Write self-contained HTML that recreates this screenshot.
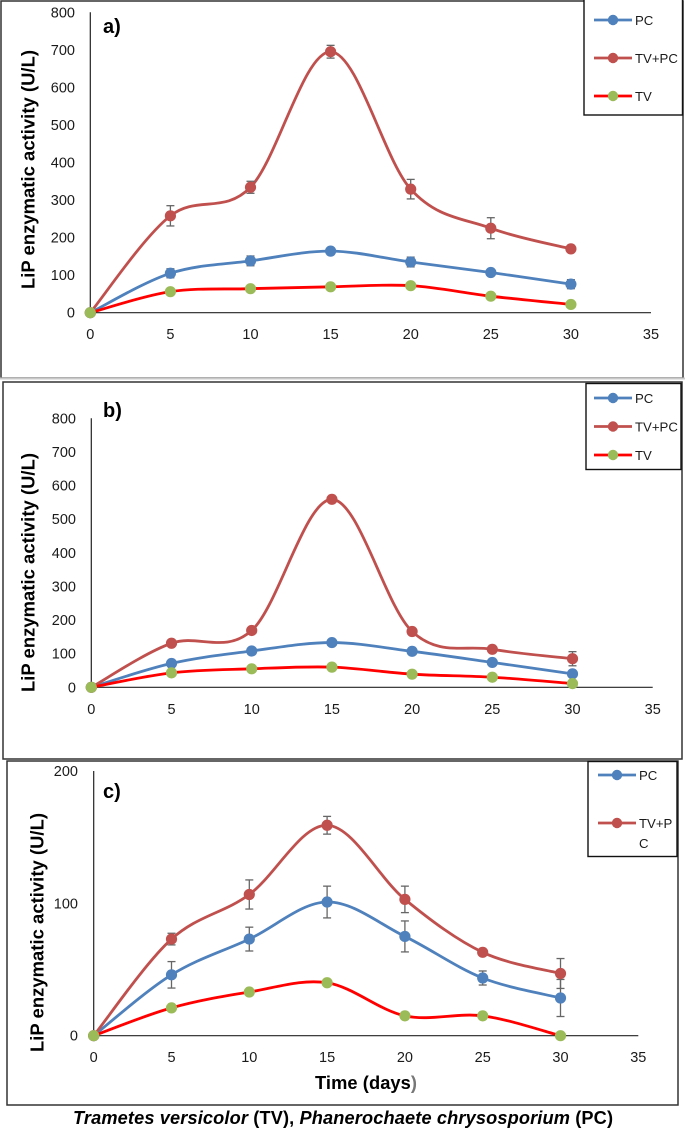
<!DOCTYPE html>
<html lang="en">
<head>
<meta charset="utf-8">
<title>LiP enzymatic activity over time</title>
<style>
html,body{margin:0;padding:0;background:#fff;}
body{width:685px;height:1129px;overflow:hidden;}
svg{display:block;}
text{font-family:"Liberation Sans",Arial,sans-serif;fill:#1a1a1a;}
.tick{font-size:14.5px;}
.ytitle{font-size:18.4px;font-weight:bold;fill:#000;}
.plabel{font-size:20px;font-weight:bold;fill:#000;}
.leg{font-size:13.2px;}
.box{fill:none;stroke:#333;stroke-width:1.5;}
.lbox{fill:#fff;stroke:#111;stroke-width:1.4;}
</style>
</head>
<body>
<svg id="figure" xmlns="http://www.w3.org/2000/svg" width="685" height="1129" viewBox="0 0 685 1129">
  <rect width="685" height="1129" fill="#fff"/>

  <rect class="box" x="1" y="1" width="682" height="377"/>
  <line x1="0" x2="685" y1="378.5" y2="378.5" stroke="#c8c8c8" stroke-width="2"/>
  <rect class="box" x="3" y="382" width="679" height="377"/>
  <rect class="box" x="7" y="761" width="671" height="344"/>

  <g id="panel-a"></g>
  <g id="panel-b"></g>
  <g id="panel-c"></g>

  <text class="plabel" x="103" y="33">a)</text>
  <text class="plabel" x="103" y="417">b)</text>
  <text class="plabel" x="103" y="798">c)</text>

  <text class="ytitle" transform="translate(34.3,289) rotate(-90)" textLength="239">LiP enzymatic activity (U/L)</text>
  <text class="ytitle" transform="translate(34.3,692) rotate(-90)" textLength="239">LiP enzymatic activity (U/L)</text>
  <text class="ytitle" transform="translate(43.3,1052) rotate(-90)" textLength="239">LiP enzymatic activity (U/L)</text>

  <text x="315" y="1089" textLength="102" style="font-size:18.3px;font-weight:bold;fill:#000">Time (days<tspan fill="#777">)</tspan></text>
  <text x="73" y="1124" textLength="540" style="font-size:18.2px;font-weight:bold;fill:#000"><tspan font-style="italic">Trametes versicolor</tspan> (TV), <tspan font-style="italic">Phanerochaete chrysosporium</tspan> (PC)</text>

  <g>
    <rect class="lbox" x="584" y="-2" width="98.5" height="117"/>
    <g><line x1="594" x2="632" y1="20" y2="20" stroke="#4F81BD" stroke-width="2.8"/><circle cx="613" cy="20" r="5.2" fill="#4F81BD"/><text class="leg" x="635" y="25">PC</text></g>
    <g><line x1="594" x2="632" y1="58" y2="58" stroke="#C0504D" stroke-width="2.8"/><circle cx="613" cy="58" r="5.2" fill="#C0504D"/><text class="leg" x="635" y="63">TV+PC</text></g>
    <g><line x1="594" x2="632" y1="96" y2="96" stroke="#FF0000" stroke-width="2.8"/><circle cx="613" cy="96" r="5.2" fill="#9BBB59"/><text class="leg" x="635" y="101">TV</text></g>
  </g>
  <g>
    <rect class="lbox" x="586" y="383.5" width="95" height="86"/>
    <g><line x1="594" x2="632" y1="398" y2="398" stroke="#4F81BD" stroke-width="2.8"/><circle cx="613" cy="398" r="5.2" fill="#4F81BD"/><text class="leg" x="635" y="403">PC</text></g>
    <g><line x1="594" x2="632" y1="426.5" y2="426.5" stroke="#C0504D" stroke-width="2.8"/><circle cx="613" cy="426.5" r="5.2" fill="#C0504D"/><text class="leg" x="635" y="431.5">TV+PC</text></g>
    <g><line x1="594" x2="632" y1="455" y2="455" stroke="#FF0000" stroke-width="2.8"/><circle cx="613" cy="455" r="5.2" fill="#9BBB59"/><text class="leg" x="635" y="460">TV</text></g>
  </g>
  <g>
    <rect class="lbox" x="588" y="761.5" width="89" height="95"/>
    <g><line x1="598" x2="636" y1="775" y2="775" stroke="#4F81BD" stroke-width="2.8"/><circle cx="617" cy="775" r="5.2" fill="#4F81BD"/><text class="leg" x="639" y="780">PC</text></g>
    <g><line x1="598" x2="636" y1="823" y2="823" stroke="#C0504D" stroke-width="2.8"/><circle cx="617" cy="823" r="5.2" fill="#C0504D"/><text class="leg" x="639" y="828">TV+P</text><text class="leg" x="639" y="848">C</text></g>
  </g>
</svg>

<script>
// Shared axis data
const days = [0, 5, 10, 15, 20, 25, 30];
const xTickLabels = [0, 5, 10, 15, 20, 25, 30, 35];
const yTicksAB = [0, 100, 200, 300, 400, 500, 600, 700, 800];
const yTicksC = [0, 100, 200];

// Panel a values
const aPC = [0, 105, 138, 164, 135, 107, 76];
const aPCErr = [0, 12, 13, 3, 13, 6, 12];
const aTVPC = [0, 258, 334, 695, 329, 225, 170];
const aTVPCErr = [0, 27, 16, 17, 26, 28, 3];
const aTV = [0, 56, 64, 69, 72, 44, 22];

// Panel b values
const bPC = [0, 71, 108, 133, 107, 74, 40];
const bPCErr = [0, 8, 4, 3, 10, 3, 5];
const bTVPC = [0, 131, 169, 559, 166, 113, 85];
const bTVPCErr = [0, 6, 3, 3, 3, 5, 21];
const bTV = [0, 43, 55, 60, 39, 30, 11];

// Panel c values
const cPC = [0, 46, 73, 101, 75, 43.6, 28.5];
const cPCErr = [0, 10, 9, 12, 11.7, 5.3, 14];
const cTVPC = [0, 73, 106.7, 159, 103, 63, 47];
const cTVPCErr = [0, 4.4, 11, 6.7, 10, 1, 11.3];
const cTV = [0, 21, 33, 40, 15, 15, 0];

const NS = 'http://www.w3.org/2000/svg';

function make(parent, tag, attrs, name) {
  const el = document.createElementNS(NS, tag);
  for (const k in attrs) el.setAttribute(k, attrs[k]);
  
  
  parent.appendChild(el);
  return el;
}

function smoothPath(pts) {
  let d = 'M' + pts[0][0] + ' ' + pts[0][1];
  for (let i = 0; i < pts.length - 1; i++) {
    const p0 = pts[Math.max(i - 1, 0)];
    const p1 = pts[i];
    const p2 = pts[i + 1];
    const p3 = pts[Math.min(i + 2, pts.length - 1)];
    const c1x = p1[0] + (p2[0] - p0[0]) / 6;
    const c1y = p1[1] + (p2[1] - p0[1]) / 6;
    const c2x = p2[0] - (p3[0] - p1[0]) / 6;
    const c2y = p2[1] - (p3[1] - p1[1]) / 6;
    d += ' C' + c1x + ' ' + c1y + ' ' + c2x + ' ' + c2y + ' ' + p2[0] + ' ' + p2[1];
  }
  return d;
}

function drawPanel(cfg) {
  const g = document.getElementById(cfg.id);
  const xScale = function (v) { return cfg.x0 + (v / 35) * (cfg.x35 - cfg.x0); };
  const yScale = function (v) { return cfg.y0 - (v / cfg.yMax) * (cfg.y0 - cfg.yTop); };

  make(g, 'line', {x1: xScale(0), x2: xScale(0), y1: yScale(cfg.yMax), y2: yScale(0), stroke: '#222', 'stroke-width': 1.2}, 'y-axis-line');
  make(g, 'line', {x1: xScale(0), x2: xScale(35), y1: yScale(0), y2: yScale(0), stroke: '#222', 'stroke-width': 1.2}, 'x-axis-line');

  xTickLabels.forEach(function (t) {
    const el = make(g, 'text', {class: 'tick', x: xScale(t), y: cfg.xLabelY, 'text-anchor': 'middle'}, 'x-tick-label');
    el.textContent = t;
  });
  cfg.yTicks.forEach(function (t) {
    const el = make(g, 'text', {class: 'tick', x: cfg.yLabelX, y: yScale(t) + 5, 'text-anchor': 'end'}, 'y-tick-label');
    el.textContent = t;
  });

  cfg.series.forEach(function (s) {
    const sg = make(g, 'g', {}, 'series-' + s.key);
    const pts = days.map(function (d, i) { return [xScale(d), yScale(s.values[i])]; });
    make(sg, 'path', {d: smoothPath(pts), fill: 'none', stroke: s.line, 'stroke-width': 2.8, 'stroke-linecap': 'round'}, 'line-' + s.key);
    if (s.err) {
      days.forEach(function (d, i) {
        if (!s.err[i]) return;
        const x = xScale(d);
        const top = yScale(s.values[i] + s.err[i]);
        const bot = yScale(s.values[i] - s.err[i]);
        make(sg, 'line', {x1: x, x2: x, y1: top, y2: bot, stroke: '#666', 'stroke-width': 1.3}, 'error-bar-' + s.key);
        make(sg, 'line', {x1: x - 4, x2: x + 4, y1: top, y2: top, stroke: '#666', 'stroke-width': 1.3}, 'error-cap-' + s.key);
        make(sg, 'line', {x1: x - 4, x2: x + 4, y1: bot, y2: bot, stroke: '#666', 'stroke-width': 1.3}, 'error-cap-' + s.key);
      });
    }
    days.forEach(function (d, i) {
      make(sg, 'circle', {cx: xScale(d), cy: yScale(s.values[i]), r: 5.6, fill: s.marker}, 'point-' + s.key);
    });
  });
}

drawPanel({
  id: 'panel-a', x0: 90.3, x35: 651, y0: 312.7, yTop: 12.3, yMax: 800,
  xLabelY: 339, yLabelX: 75, yTicks: yTicksAB,
  series: [
    {key: 'pc', values: aPC, err: aPCErr, line: '#4F81BD', marker: '#4F81BD'},
    {key: 'tv-pc', values: aTVPC, err: aTVPCErr, line: '#C0504D', marker: '#C0504D'},
    {key: 'tv', values: aTV, err: null, line: '#FF0000', marker: '#9BBB59'}
  ]
});
drawPanel({
  id: 'panel-b', x0: 91.3, x35: 652.7, y0: 687.3, yTop: 418.3, yMax: 800,
  xLabelY: 714, yLabelX: 76, yTicks: yTicksAB,
  series: [
    {key: 'pc', values: bPC, err: bPCErr, line: '#4F81BD', marker: '#4F81BD'},
    {key: 'tv-pc', values: bTVPC, err: bTVPCErr, line: '#C0504D', marker: '#C0504D'},
    {key: 'tv', values: bTV, err: null, line: '#FF0000', marker: '#9BBB59'}
  ]
});
drawPanel({
  id: 'panel-c', x0: 93.7, x35: 638.3, y0: 1035.7, yTop: 771, yMax: 200,
  xLabelY: 1062, yLabelX: 78, yTicks: yTicksC,
  series: [
    {key: 'pc', values: cPC, err: cPCErr, line: '#4F81BD', marker: '#4F81BD'},
    {key: 'tv-pc', values: cTVPC, err: cTVPCErr, line: '#C0504D', marker: '#C0504D'},
    {key: 'tv', values: cTV, err: null, line: '#FF0000', marker: '#9BBB59'}
  ]
});
</script>
</body>
</html>
